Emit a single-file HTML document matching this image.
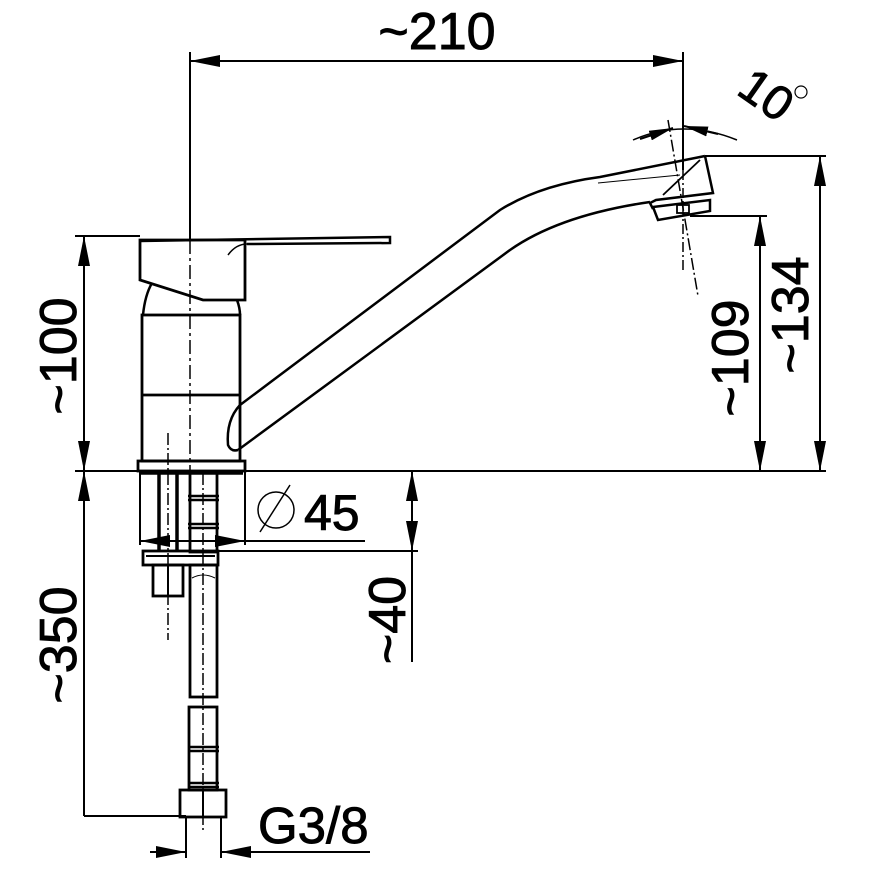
<!DOCTYPE html>
<html><head><meta charset="utf-8"><style>
html,body{margin:0;padding:0;background:#fff}
svg{display:block}
text{font-family:"Liberation Sans",Arial,sans-serif;fill:#000;stroke:#000;stroke-width:0.9}
</style></head><body>
<svg width="870" height="870" viewBox="0 0 870 870" xmlns="http://www.w3.org/2000/svg">
<defs>
<marker id="a" viewBox="0 0 30 12" refX="30" refY="6" markerWidth="30" markerHeight="12" markerUnits="userSpaceOnUse" orient="auto-start-reverse">
<path d="M0,0 L30,6 L0,12 Z" fill="#000"/></marker>
<marker id="b" viewBox="0 0 24 10" refX="24" refY="5" markerWidth="24" markerHeight="10" markerUnits="userSpaceOnUse" orient="auto-start-reverse">
<path d="M0,0 L24,5 L0,10 Z" fill="#000"/></marker>
</defs>
<g stroke="#000" fill="none" stroke-width="2">
<!-- top dim -->
<line x1="190" y1="52" x2="190" y2="240"/>
<line x1="683" y1="52" x2="683" y2="170"/>
<line x1="190" y1="61" x2="683" y2="61" marker-start="url(#a)" marker-end="url(#a)"/>
<line x1="190" y1="240" x2="190" y2="470" stroke-dasharray="14,4,3,4" stroke-width="1.5"/>
<!-- right dims -->
<line x1="705" y1="156" x2="826" y2="156"/>
<line x1="690" y1="216" x2="767" y2="216"/>
<line x1="820" y1="156" x2="820" y2="471" marker-start="url(#a)" marker-end="url(#a)"/>
<line x1="760" y1="216" x2="760" y2="471" marker-start="url(#a)" marker-end="url(#a)"/>
<line x1="75" y1="471" x2="826" y2="471"/>
<!-- left dims -->
<line x1="75" y1="236" x2="140" y2="236"/>
<line x1="84" y1="236" x2="84" y2="471" marker-start="url(#a)" marker-end="url(#a)"/>
<line x1="84" y1="471" x2="84" y2="816" marker-start="url(#a)"/>
<line x1="84" y1="816" x2="186" y2="816"/>
<!-- angle 10° -->
<path d="M633,140 Q683,118 737,140" stroke-width="1.5"/>
<line x1="640" y1="139" x2="673" y2="128" marker-end="url(#b)"/>
<line x1="718" y1="134" x2="684" y2="126" marker-end="url(#b)"/>
<line x1="683" y1="170" x2="683" y2="272" stroke-dasharray="10,3,2,3" stroke-width="1.5"/>
<line x1="668" y1="120" x2="698" y2="296" stroke-dasharray="12,3,2,3" stroke-width="1.5"/>
<!-- lever -->
<path d="M140,241 L390,237 L390,243 L247,244" stroke-width="2.5"/>
<path d="M140,240 L245,240 L245,300 L203,300 L140,280 Z" stroke-width="2.8"/>
<path d="M228,255 Q236,244 247,244" stroke-width="1.5"/>
<path d="M152,283 Q145,295 143,315" stroke-width="2.5"/>
<path d="M237,300 Q240,308 240,315" stroke-width="2.5"/>
<!-- body -->
<rect x="142" y="315" width="98" height="146" stroke-width="2.8"/>
<line x1="142" y1="395" x2="240" y2="395" stroke-width="2.8"/>
<rect x="138" y="461" width="107" height="10" stroke-width="2.8"/>
<line x1="140" y1="473" x2="243" y2="473" stroke-width="3.5"/>
<!-- spout -->
<path d="M240,405 L500,210 Q540,185 600,177 L705,156" stroke-width="2.5"/>
<path d="M238,450 L510,250 Q560,215 650,202" stroke-width="2.5"/>
<path d="M240,405 Q226,420 228,445 Q231,452 238,450" stroke-width="2.5"/>
<path d="M705,156 L713,193 L656,200 L650,203 L653,209" stroke-width="2.5"/>
<path d="M700,160 L663,195" stroke-width="1.8"/>
<path d="M598,183 L680,175" stroke-width="1"/>
<path d="M653,207 L710,200 L710,211 L658,220 Z" stroke-width="2.5"/>
<rect x="677" y="205" width="12" height="8" stroke-width="1.8"/>
<!-- below deck -->
<line x1="140" y1="471" x2="140" y2="545"/>
<line x1="245" y1="471" x2="245" y2="545"/>
<line x1="140" y1="541" x2="365" y2="541"/>
<line x1="172" y1="541" x2="140" y2="541" marker-end="url(#a)"/>
<line x1="214" y1="541" x2="245" y2="541" marker-end="url(#a)"/>
<line x1="159" y1="473" x2="159" y2="552" stroke-width="3.5"/>
<line x1="177" y1="473" x2="177" y2="552" stroke-width="3.5"/>
<line x1="168" y1="433" x2="168" y2="640" stroke-dasharray="12,3,2,3" stroke-width="1.5"/>
<rect x="190" y="473" width="27" height="79" stroke-width="2.8"/>
<path d="M188,496 L219,496 M188,500 L219,500 M188,524 L219,524 M188,528 L219,528" stroke-width="2.5"/>
<rect x="143" y="551" width="75" height="14" stroke-width="2.8"/>
<line x1="146" y1="556" x2="215" y2="556"/>
<rect x="153" y="565" width="30" height="31" stroke-width="2.8"/>
<line x1="168" y1="565" x2="168" y2="596"/>
<rect x="190" y="565" width="27" height="132" stroke-width="2.8"/>
<path d="M192,578 Q203,572 215,578" stroke-width="1"/>
<line x1="203" y1="473" x2="203" y2="830" stroke-dasharray="12,3,2,3" stroke-width="1.5"/>
<rect x="189" y="707" width="28" height="83" stroke-width="2.8"/>
<path d="M188,747 L219,747 M188,751 L219,751 M188,783 L219,783 M188,787 L219,787" stroke-width="2.5"/>
<rect x="180" y="790" width="46" height="27" stroke-width="2.8"/>
<line x1="203" y1="790" x2="203" y2="817"/>
<!-- ⌀ -->
<circle cx="276" cy="510" r="18" stroke-width="1.5"/>
<line x1="260" y1="532" x2="290" y2="485" stroke-width="1.5"/>
<!-- ~40 -->
<line x1="218" y1="551" x2="418" y2="551"/>
<line x1="412" y1="471" x2="412" y2="551" marker-start="url(#a)" marker-end="url(#a)"/>
<line x1="412" y1="551" x2="412" y2="662"/>
<!-- G3/8 -->
<line x1="186" y1="817" x2="186" y2="858"/>
<line x1="221" y1="817" x2="221" y2="858"/>
<line x1="150" y1="852" x2="186" y2="852" marker-end="url(#a)"/>
<line x1="370" y1="852" x2="221" y2="852" marker-end="url(#a)"/>
</g>
<g font-size="52">
<text x="437" y="49" text-anchor="middle">~210</text>
<text x="304" y="530" font-size="50">45</text>
<text x="258" y="843" font-size="51">G3/8</text>
<text transform="translate(76,356) rotate(-90)" text-anchor="middle">~100</text>
<text transform="translate(76,645) rotate(-90)" text-anchor="middle">~350</text>
<text transform="translate(405,620) rotate(-90)" text-anchor="middle">~40</text>
<text transform="translate(748,358) rotate(-90)" text-anchor="middle">~109</text>
<text transform="translate(808,315) rotate(-90)" text-anchor="middle">~134</text>
<text transform="translate(735,93) rotate(35)" font-size="48">10</text>
</g>
<circle cx="801" cy="92" r="6" fill="none" stroke="#000" stroke-width="1.2"/>
</svg>
</body></html>
